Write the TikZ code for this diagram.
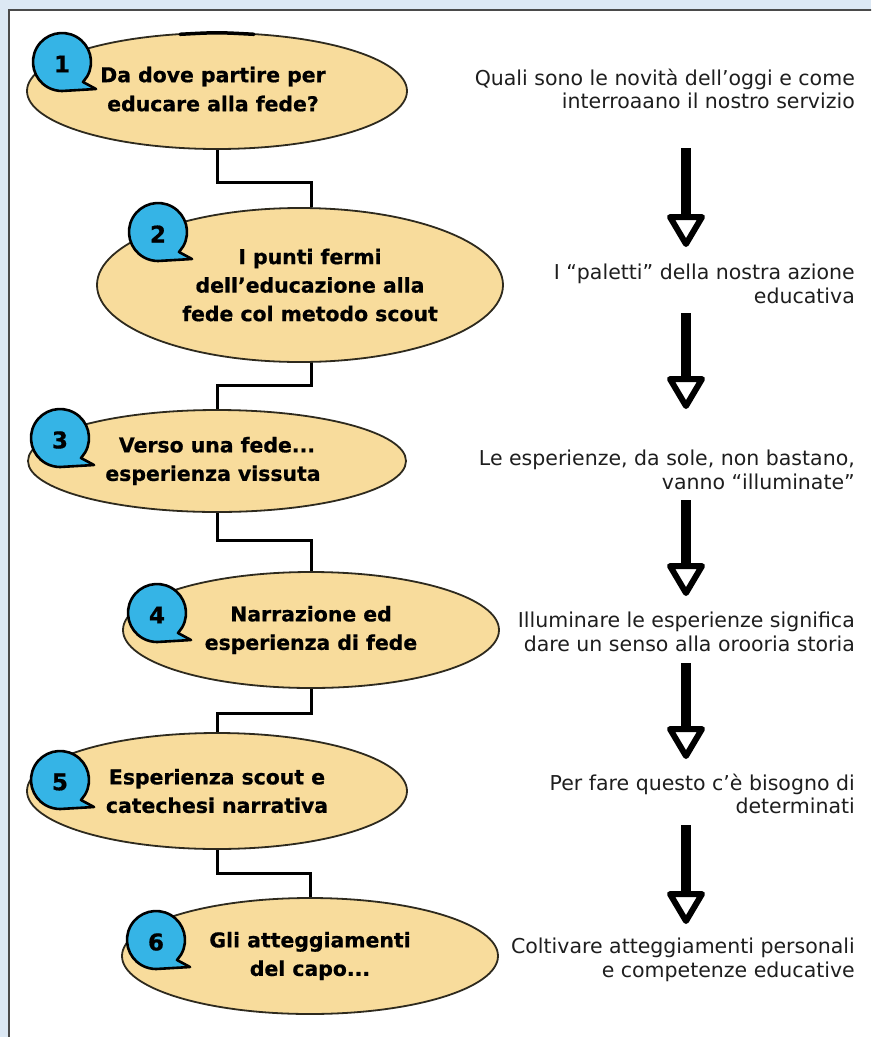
\documentclass[tikz,border=0pt]{standalone}
\usepackage{fontspec}
\setmainfont{DejaVu Sans}
\newfontfamily\ellfont{DejaVu Sans}[BoldFeatures={FakeBold=0.7}]
\usetikzlibrary{shapes.geometric}
\definecolor{bgblue}{HTML}{DCE8F4}
\definecolor{elfill}{HTML}{F8DC9C}
\definecolor{elline}{HTML}{2E2A1E}
\definecolor{badgeblue}{HTML}{35B4E6}
\definecolor{framegray}{HTML}{4A4A4A}
\definecolor{notetext}{HTML}{1E1E1E}
\tikzset{
  ell/.style={ellipse, draw=elline, line width=1.8pt, fill=elfill, inner sep=0pt,
    align=center, font=\ellfont\bfseries\fontsize{20.4}{28.5}\selectfont},
  conn/.style={line width=3pt, draw=black},
  note/.style={align=right, anchor=east, inner sep=0pt, text=notetext,
    font=\fontsize{20.5}{23.5}\selectfont},
  shaft/.style={line width=10pt, draw=black},
  head/.style={line width=6pt, draw=black, fill=white, line join=round},
  digit/.style={inner sep=0pt, font=\ellfont\bfseries\fontsize{23}{23}\selectfont},
  pics/badge/.style={code={
    \draw[line width=2.6pt, fill=badgeblue, draw=black, line join=round]
      (30:29) arc[start angle=30, end angle=-270, radius=29] -- (34,27) -- (21,20) -- cycle;
    \node[digit] (-n) at (0,2) {#1};
  }}
}
\begin{document}
\begin{tikzpicture}[x=1pt,y=-1pt]
\useasboundingbox (0,0) rectangle (871,1037);
\clip (0,0) rectangle (871,1037);
\fill[bgblue] (0,0) rectangle (871,1037);
\filldraw[fill=white, draw=framegray, line width=2pt] (9,10) rectangle (900,1070);

% ellipses
\node[ell, minimum width=380pt, minimum height=116pt] (e1) at (217,91) {\raisebox{4pt}{\begin{tabular}{@{}c@{}}Da dove partire per\\[0.5pt]educare alla fede?\end{tabular}}\hspace*{8pt}};
\node[ell, minimum width=406pt, minimum height=154pt] (e2) at (300,285) {\hspace*{20pt}I punti fermi\\\hspace*{20pt}dell’educazione alla\\\hspace*{20pt}fede col metodo scout};
\node[ell, minimum width=378pt, minimum height=102pt] (e3) at (217,461) {Verso una fede...\\esperienza vissuta\hspace*{8pt}};
\node[ell, minimum width=376pt, minimum height=116pt] (e4) at (311,630) {Narrazione ed\\esperienza di fede};
\node[ell, minimum width=380pt, minimum height=116pt] (e5) at (217,791) {Esperienza scout e\\catechesi narrativa};
\node[ell, minimum width=376pt, minimum height=116pt] (e6) at (310,956) {Gli atteggiamenti\\del capo...};

% thicker part of the first ellipse's top outline
\draw[line width=3.5pt, line cap=round]
  ([xshift=-37pt,yshift=-2.2pt]e1.north) .. controls ([yshift=-0.2pt]e1.north) .. ([xshift=37pt,yshift=-2.2pt]e1.north);

% connectors
\draw[conn] (e1.south) -- ++(0,33) -| ([xshift=11pt]e2.north);
\draw[conn] ([xshift=11pt]e2.south) -- ++(0,23) -| (e3.north);
\draw[conn] (e3.south) -- ++(0,28) -| (e4.north);
\draw[conn] (e4.south) -- ++(0,25) -| (e5.north);
\draw[conn] (e5.south) -- ++(0,24) -| (e6.north);

% badges
\pic (b1) at (62,62) {badge=1};
\pic (b2) at (158,232) {badge=2};
\pic (b3) at (60,438) {badge=3};
\pic (b4) at (157,613) {badge=4};
\pic (b5) at (60,780) {badge=5};
\pic (b6) at (156,940) {badge=6};

% right notes
\node[note] (t1) at (855,89) {Quali sono le novità dell’oggi e come\\interroaano il nostro servizio};
\node[note] (t2) at (855,284) {I “paletti” della nostra azione\\educativa};
\node[note] (t3) at (855,470) {Le esperienze, da sole, non bastano,\\vanno “illuminate”};
\node[note] (t4) at (855,632) {Illuminare le esperienze significa\\dare un senso alla orooria storia};
\node[note] (t5) at (855,794) {Per fare questo c’è bisogno di\\determinati};
\node[note] (t6) at (855,960) {Coltivare atteggiamenti personali\\e competenze educative};

% big arrows
\foreach \i/\top/\tip in {1/148/248, 2/313/410, 3/500/597, 4/663/760, 5/825/925}{
  \coordinate (as\i) at (686,\top);
  \coordinate (ae\i) at (686,\tip);
  \draw[shaft] (as\i) -- ([yshift=33pt]ae\i);
  \draw[head] ([shift={(-16pt,31pt)}]ae\i) -- ([shift={(16pt,31pt)}]ae\i) -- ([yshift=4pt]ae\i) -- cycle;
}
\end{tikzpicture}
\end{document}
